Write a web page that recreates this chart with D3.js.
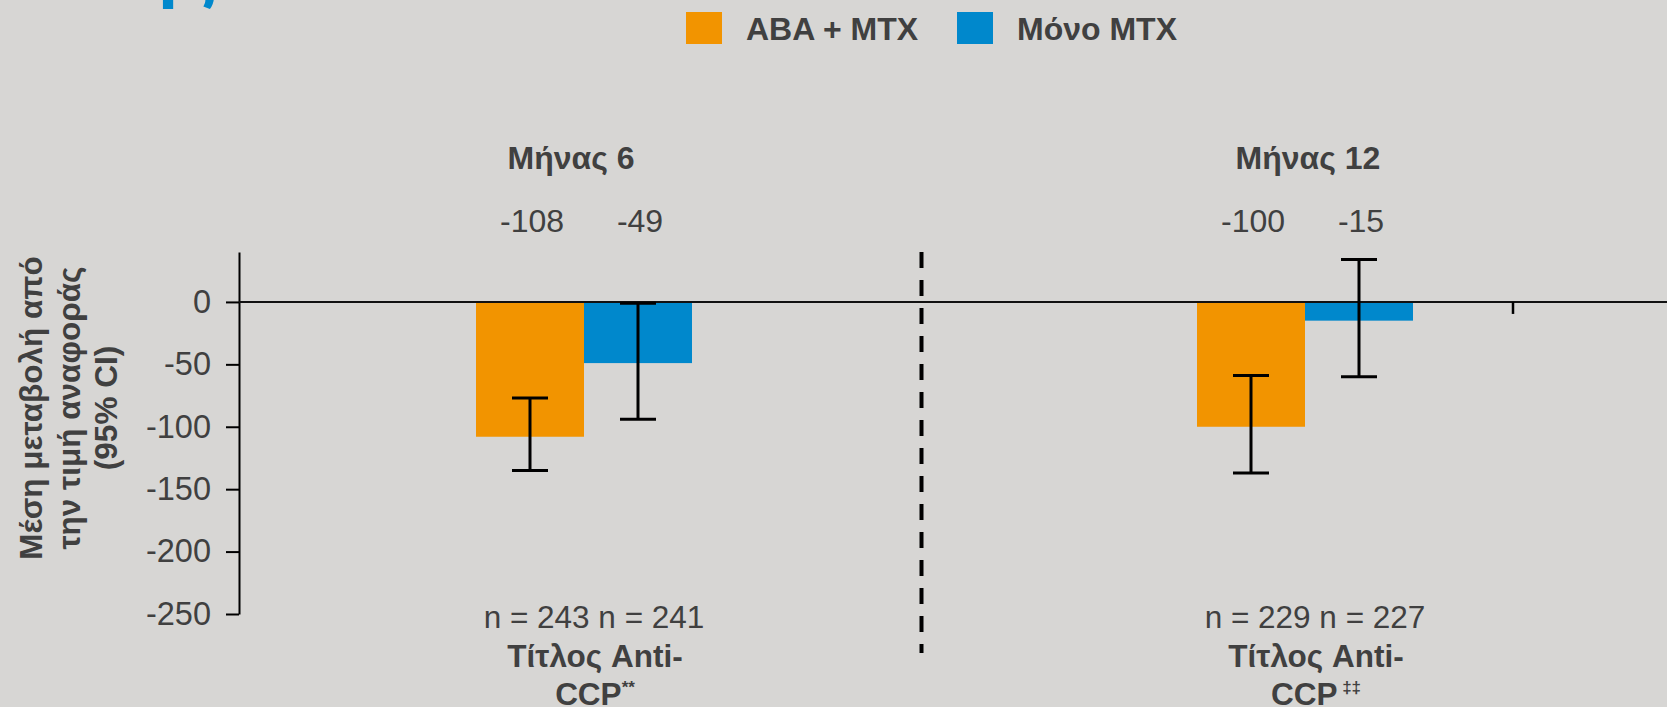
<!DOCTYPE html>
<html>
<head>
<meta charset="utf-8">
<script src="https://cdn.jsdelivr.net/npm/d3@7"></script>
<style>
  body { margin: 0; background: #d7d6d4; }
  svg { display: block; font-family: "Liberation Sans", Arial, sans-serif; }
</style>
</head>
<body>
<div id="chart"></div>
<script>
// data
var groups = ["Μήνας 6", "Μήνας 12"];
var series = ["ABA + MTX", "Μόνο MTX"];
var colors = ["#f29400", "#0088cc"];
var abaMtx = [-108, -100];
var monoMtx = [-49, -15];
var abaLow = [-135, -137];
var abaHigh = [-77, -59];
var monoLow = [-94, -60];
var monoHigh = [-1, 34];
var abaN = [243, 229];
var monoN = [241, 227];
var footMarks = ["**", " ‡‡"];
var yTicks = [0, -50, -100, -150, -200, -250];
var yTitle = ["Μέση μεταβολή από", "την τιμή αναφοράς", "(95% CI)"];

window.addEventListener('DOMContentLoaded', function () {
  drawChart();
});

function drawChart() {
  var w = 1667, h = 707;
  var textColor = "#404040";

  var svg = d3.select("#chart").append("svg")
      .attr("width", w)
      .attr("height", h);

  svg.append("rect").attr("width", w).attr("height", h).attr("fill", "#d7d6d4");

  // cut-off slide title (only descenders visible)
  svg.append("text")
      .attr("x", 132)
      .attr("y", -6)
      .attr("fill", "#0088cc")
      .attr("font-weight", "bold")
      .attr("font-size", 75)
      .text("ης");

  // scales
  var x = d3.scalePoint().domain(groups).range([584, 1305]);
  var xs = d3.scaleBand().domain(series).range([-108, 108]);
  var y = d3.scaleLinear().domain([-250, 40]).range([614, 252]);

  // legend
  var legend = svg.append("g").attr("class", "legend");
  var legendX = [686, 957];
  series.forEach(function (s, i) {
    legend.append("rect")
        .attr("x", legendX[i]).attr("y", 12)
        .attr("width", 36).attr("height", 32)
        .attr("fill", colors[i]);
    legend.append("text")
        .attr("x", legendX[i] + 60).attr("y", 40)
        .attr("fill", textColor)
        .attr("font-weight", "bold")
        .attr("font-size", 32)
        .text(s);
  });

  // y axis
  var gy = svg.append("g")
      .attr("class", "y-axis")
      .attr("transform", "translate(239,0)")
      .call(d3.axisLeft(y).tickValues(yTicks).tickSize(13).tickSizeOuter(0).tickPadding(15)
        .tickFormat(function (d) { return d; }));
  gy.select("path.domain").attr("stroke", "#000").attr("stroke-width", 2);
  gy.selectAll(".tick line").attr("stroke", "#000").attr("stroke-width", 2);
  gy.selectAll(".tick text")
      .attr("fill", textColor)
      .attr("font-size", 32.5)
      .attr("font-family", "Liberation Sans, Arial, sans-serif");

  // y title
  var yt = svg.append("g").attr("transform", "translate(0,408) rotate(-90)");
  yTitle.forEach(function (t, i) {
    yt.append("text")
        .attr("x", 0).attr("y", 42 + i * 37.5)
        .attr("text-anchor", "middle")
        .attr("fill", textColor)
        .attr("font-weight", "bold")
        .attr("font-size", 31.5)
        .text(t);
  });

  // bars
  var rows = groups.map(function (g, i) {
    return [
      { g: g, s: series[0], v: abaMtx[i], lo: abaLow[i], hi: abaHigh[i], c: colors[0] },
      { g: g, s: series[1], v: monoMtx[i], lo: monoLow[i], hi: monoHigh[i], c: colors[1] }
    ];
  });
  var flat = rows[0].concat(rows[1]);

  svg.selectAll("rect.bar")
      .data(flat)
      .enter().append("rect")
      .attr("class", "bar")
      .attr("x", function (d) { return x(d.g) + xs(d.s); })
      .attr("y", y(0))
      .attr("width", xs.bandwidth())
      .attr("height", function (d) { return y(d.v) - y(0); })
      .attr("fill", function (d) { return d.c; });

  // zero line + category tick
  svg.append("line")
      .attr("x1", 239).attr("x2", w)
      .attr("y1", y(0)).attr("y2", y(0))
      .attr("stroke", "#111").attr("stroke-width", 2);
  svg.append("line")
      .attr("x1", x(groups[1]) + 208).attr("x2", x(groups[1]) + 208)
      .attr("y1", y(0)).attr("y2", y(0) + 12)
      .attr("stroke", "#000").attr("stroke-width", 2.5);

  // error bars
  var eb = svg.selectAll("g.err")
      .data(flat)
      .enter().append("g")
      .attr("class", "err")
      .attr("transform", function (d) {
        return "translate(" + (x(d.g) + xs(d.s) + xs.bandwidth() / 2) + ",0)";
      });
  eb.append("line")
      .attr("y1", function (d) { return y(d.lo); })
      .attr("y2", function (d) { return y(d.hi); })
      .attr("stroke", "#000").attr("stroke-width", 3);
  eb.append("line")
      .attr("x1", -18).attr("x2", 18)
      .attr("y1", function (d) { return y(d.lo); })
      .attr("y2", function (d) { return y(d.lo); })
      .attr("stroke", "#000").attr("stroke-width", 3);
  eb.append("line")
      .attr("x1", -18).attr("x2", 18)
      .attr("y1", function (d) { return y(d.hi); })
      .attr("y2", function (d) { return y(d.hi); })
      .attr("stroke", "#000").attr("stroke-width", 3);

  // value labels above plot
  svg.selectAll("text.val")
      .data(flat)
      .enter().append("text")
      .attr("class", "val")
      .attr("x", function (d) { return x(d.g) + xs(d.s) + xs.bandwidth() / 2 + 2; })
      .attr("y", 232)
      .attr("text-anchor", "middle")
      .attr("fill", textColor)
      .attr("font-size", 32)
      .text(function (d) { return d.v; });

  // group headings and footers
  var headOffset = [-13, 3];
  groups.forEach(function (g, i) {
    svg.append("text")
        .attr("x", x(g) + headOffset[i]).attr("y", 169)
        .attr("text-anchor", "middle")
        .attr("fill", textColor)
        .attr("font-weight", "bold")
        .attr("font-size", 32)
        .text(g);

    svg.append("text")
        .attr("x", x(g) + 10).attr("y", 628)
        .attr("text-anchor", "middle")
        .attr("fill", textColor)
        .attr("font-size", 31.5)
        .text("n = " + abaN[i] + " n = " + monoN[i]);

    svg.append("text")
        .attr("x", x(g) + 11).attr("y", 667)
        .attr("text-anchor", "middle")
        .attr("fill", textColor)
        .attr("font-weight", "bold")
        .attr("font-size", 31.5)
        .text("Τίτλος Anti-");

    var last = svg.append("text")
        .attr("x", x(g) + 11).attr("y", 705)
        .attr("text-anchor", "middle")
        .attr("fill", textColor)
        .attr("font-weight", "bold")
        .attr("font-size", 31.5);
    last.append("tspan").text("CCP");
    last.append("tspan")
        .attr("font-size", 17)
        .attr("dy", -12)
        .text(footMarks[i]);
  });

  // dashed divider between months
  var xDiv = (x(groups[0]) + x(groups[1])) / 2 - 23;
  svg.append("line")
      .attr("x1", xDiv).attr("x2", xDiv)
      .attr("y1", 252).attr("y2", 653)
      .attr("stroke", "#000")
      .attr("stroke-width", 4)
      .attr("stroke-dasharray", "16,12");
}
</script>
</body>
</html>
